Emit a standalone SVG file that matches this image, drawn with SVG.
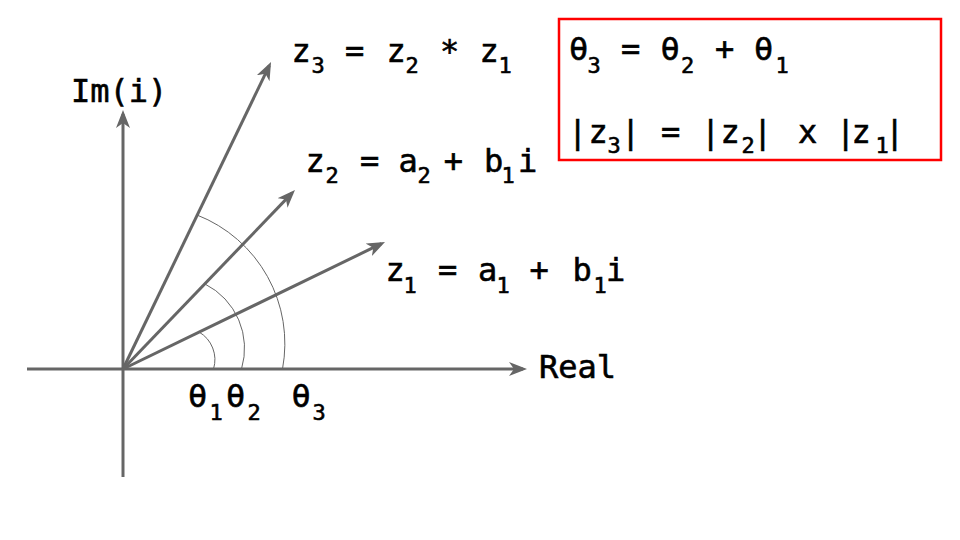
<svg xmlns="http://www.w3.org/2000/svg" width="960" height="540" viewBox="0 0 960 540">
  <style>
    .t { font-family: "DejaVu Sans Mono", "Liberation Mono", monospace; font-size: 32px; fill: #000; stroke: #000; stroke-width: 0.6px; }
    .s { font-size: 22px; }
    .ln { stroke: #666; stroke-width: 3; fill: none; marker-end: url(#ah); }
    .ax { stroke: #666; stroke-width: 3; fill: none; }
    .arc { stroke: #666; stroke-width: 1; fill: none; }
  </style>
  <defs>
    <marker id="ah" markerUnits="userSpaceOnUse" markerWidth="20" markerHeight="16" refX="14" refY="7" orient="auto">
      <path d="M0,0 L18,7 L0,14 L5,7 Z" fill="#666"/>
    </marker>
  </defs>
  <rect width="960" height="540" fill="#fff"/>

  <g id="connectors">
    <line class="ax" x1="27" y1="369" x2="123" y2="369"/>
    <line class="ln" x1="123" y1="369" x2="523" y2="369"/>
    <line class="ax" x1="123" y1="477" x2="123" y2="369"/>
    <line class="ln" x1="123" y1="369" x2="123" y2="114"/>
    <line class="ln" x1="123" y1="369" x2="269.3" y2="65.6"/>
    <line class="ln" x1="123" y1="369" x2="292.2" y2="192.9"/>
    <line class="ln" x1="123" y1="369" x2="381.4" y2="243.7"/>
    <path class="arc" d="M199 332 A32 32 0 0 1 213.5 369"/>
    <path class="arc" d="M205 284 A72 72 0 0 1 241.5 369"/>
    <path class="arc" d="M197 215 A138 138 0 0 1 282.5 369"/>
  </g>

  <g id="label-im">
    <text class="t" x="71" y="102">Im(i)</text>
  </g>
  <g id="label-real">
    <text class="t" x="539" y="378">Real</text>
  </g>

  <g id="label-z3">
    <text class="t" y="62"><tspan x="291.5">z</tspan><tspan class="s" x="311.4" y="73">3</tspan><tspan x="345" y="62">=</tspan><tspan x="386.5">z</tspan><tspan class="s" x="405.4" y="73">2</tspan><tspan x="440" y="62">*</tspan><tspan x="479.5">z</tspan><tspan class="s" x="498.4" y="73">1</tspan></text>
  </g>
  <g id="label-z2">
    <text class="t" y="172"><tspan x="305.5">z</tspan><tspan class="s" x="325.4" y="183">2</tspan><tspan x="360" y="172">=</tspan><tspan x="398.5">a</tspan><tspan class="s" x="417.4" y="183">2</tspan><tspan x="443.7" y="172">+</tspan><tspan x="484">b</tspan><tspan class="s" x="501.4" y="183">1</tspan><tspan x="518" y="172">i</tspan></text>
  </g>
  <g id="label-z1">
    <text class="t" y="281"><tspan x="385.5">z</tspan><tspan class="s" x="403.4" y="293">1</tspan><tspan x="438" y="281">=</tspan><tspan x="478">a</tspan><tspan class="s" x="496.4" y="293">1</tspan><tspan x="529.5" y="281">+</tspan><tspan x="572.5">b</tspan><tspan class="s" x="593.4" y="293">1</tspan><tspan x="606" y="281">i</tspan></text>
  </g>

  <g id="label-thetas">
    <text class="t" y="407"><tspan x="188">θ</tspan><tspan class="s" x="209.4" y="420">1</tspan><tspan x="226" y="407">θ</tspan><tspan class="s" x="247.4" y="420">2</tspan><tspan x="291.5" y="407">θ</tspan><tspan class="s" x="312.4" y="420">3</tspan></text>
  </g>

  <g id="formula-box">
    <rect x="559" y="19" width="382" height="141" fill="none" stroke="#ff0000" stroke-width="2.5"/>
    <text class="t" y="60"><tspan x="569">θ</tspan><tspan class="s" x="587.4" y="73">3</tspan><tspan x="621" y="60">=</tspan><tspan x="660.5">θ</tspan><tspan class="s" x="681" y="73">2</tspan><tspan x="715" y="60">+</tspan><tspan x="754">θ</tspan><tspan class="s" x="775.4" y="73">1</tspan></text>
    <text class="t" y="143"><tspan x="568">|</tspan><tspan x="588.5">z</tspan><tspan class="s" x="607.4" y="153">3</tspan><tspan x="621" y="143">|</tspan><tspan x="661">=</tspan><tspan x="701">|</tspan><tspan x="720.5">z</tspan><tspan class="s" x="741.4" y="153">2</tspan><tspan x="753" y="143">|</tspan><tspan x="798">x</tspan><tspan x="836">|</tspan><tspan x="851.5">z</tspan><tspan class="s" x="875.4" y="153">1</tspan><tspan x="885" y="143">|</tspan></text>
  </g>
</svg>
